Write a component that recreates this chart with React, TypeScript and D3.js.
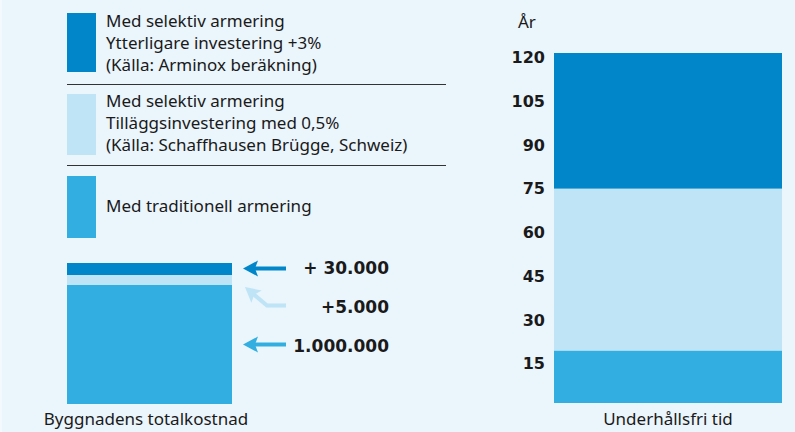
import React from "react";
import * as d3 from "d3";

const W = 795;
const H = 432;

// Series (legend order: top to bottom)
const seriesNames = [
  ["Med selektiv armering", "Ytterligare investering +3%", "(Källa: Arminox beräkning)"],
  ["Med selektiv armering", "Tilläggsinvestering med 0,5%", "(Källa: Schaffhausen Brügge, Schweiz)"],
  ["Med traditionell armering"],
];
const seriesColors = ["#0086c9", "#bee4f6", "#32aee0"];

// Building total cost (stack from bottom: traditional, +0.5%, +3%)
const costLabels = ["1.000.000", "+5.000", "+ 30.000"];
const costValues = [1000000, 5000, 30000];

// Maintenance-free time in years: cumulative tops (traditional, selective 0.5%, selective 3%)
const lifeTops = [18, 73.5, 120];
const yearTicks = [15, 30, 45, 60, 75, 90, 105, 120];

const FONT = "'Noto Sans', sans-serif";
const BOLD = "'DejaVu Sans', sans-serif";
const TXT = "#1a1a1a";

export default function App() {
  // Right bar
  const y = d3.scaleLinear().domain([0, 120]).range([403, 53]);
  const bx0 = 554, bx1 = 782;
  const colorsBottomUp = [seriesColors[2], seriesColors[1], seriesColors[0]];
  const segs = lifeTops.map((t, i) => ({ y0: i === 0 ? 0 : lifeTops[i - 1], y1: t, c: colorsBottomUp[i] }));

  // Left bar (schematic: base to scale, extras with fixed visible thickness)
  const yc = d3.scaleLinear().domain([0, costValues[0]]).range([404, 285]);
  const extraThick = [10, 12];
  const lx0 = 67, lx1 = 232;
  const leftSegs: { top: number; bot: number; c: string }[] = [];
  let cur = yc(costValues[0]);
  leftSegs.push({ top: cur, bot: yc(0), c: colorsBottomUp[0] });
  extraThick.forEach((t, i) => {
    leftSegs.push({ top: cur - t, bot: cur, c: colorsBottomUp[i + 1] });
    cur -= t;
  });

  const arrowHead = (tx: number, ty: number, angleDeg: number, color: string) => {
    const p = "M0,0 L15,-8 L12,0 L15,8 Z";
    return <path d={p} fill={color} transform={`translate(${tx},${ty}) rotate(${angleDeg})`} />;
  };
  const line = d3.line();

  const legendTops = [13, 94, 176];
  const legendBottoms = [72, 155, 238];
  const legendBaselines = [[27, 49, 71], [107, 129, 151], [212]];

  return (
    <svg width={W} height={H} style={{ position: "absolute", left: 0, top: 0, display: "block" }}>
      <rect x={0} y={0} width={W} height={H} fill="#eaf5fc" />
      <rect x={0} y={0} width={2} height={H} fill="#f3f9fd" />

      {/* Legend */}
      {seriesNames.map((lines, i) => (
        <g key={i}>
          <rect x={67} y={legendTops[i]} width={29} height={legendBottoms[i] - legendTops[i]} fill={seriesColors[i]} />
          {lines.map((t, j) => (
            <text key={j} x={106} y={legendBaselines[i][j]} fontFamily={FONT} fontSize={17} fill={TXT}>{t}</text>
          ))}
        </g>
      ))}
      <line x1={67} x2={446} y1={84.5} y2={84.5} stroke="#333" strokeWidth={1} />
      <line x1={67} x2={446} y1={165.5} y2={165.5} stroke="#333" strokeWidth={1} />

      {/* Left bar */}
      {leftSegs.map((s, i) => (
        <rect key={i} x={lx0} y={s.top} width={lx1 - lx0} height={s.bot - s.top} fill={s.c} />
      ))}
      <text x={146} y={425} textAnchor="middle" fontFamily={FONT} fontSize={17} fill={TXT}>Byggnadens totalkostnad</text>

      {/* Arrows */}
      <path d={line([[254, 268.5], [286, 268.5]]) || ""} stroke={seriesColors[0]} strokeWidth={4} fill="none" />
      {arrowHead(243, 268.5, 0, seriesColors[0])}
      <path d={line([[286, 305.5], [267, 305.5], [252, 293]]) || ""} stroke={seriesColors[1]} strokeWidth={4} fill="none" strokeLinejoin="miter" />
      {arrowHead(245, 287, 40, seriesColors[1])}
      <path d={line([[254, 344.5], [286, 344.5]]) || ""} stroke={seriesColors[2]} strokeWidth={4} fill="none" />
      {arrowHead(243, 344.5, 0, seriesColors[2])}

      {[costLabels[2], costLabels[1], costLabels[0]].map((t, i) => (
        <text key={i} x={389} y={[274, 313, 352][i]} textAnchor="end" fontFamily={BOLD} fontWeight="bold" fontSize={17} fill={TXT}>{t}</text>
      ))}

      {/* Right bar */}
      {segs.map((s, i) => (
        <rect key={i} x={bx0} y={y(s.y1)} width={bx1 - bx0} height={y(s.y0) - y(s.y1)} fill={s.c} />
      ))}
      {yearTicks.map((v) => (
        <text key={v} x={545} y={y(v) + 10} textAnchor="end" fontFamily={BOLD} fontWeight="bold" fontSize={16} fill={TXT}>{v}</text>
      ))}
      <text x={518} y={28} fontFamily={FONT} fontSize={17} fill={TXT}>År</text>
      <text x={668} y={425} textAnchor="middle" fontFamily={FONT} fontSize={17} fill={TXT}>Underhållsfri tid</text>
    </svg>
  );
}
